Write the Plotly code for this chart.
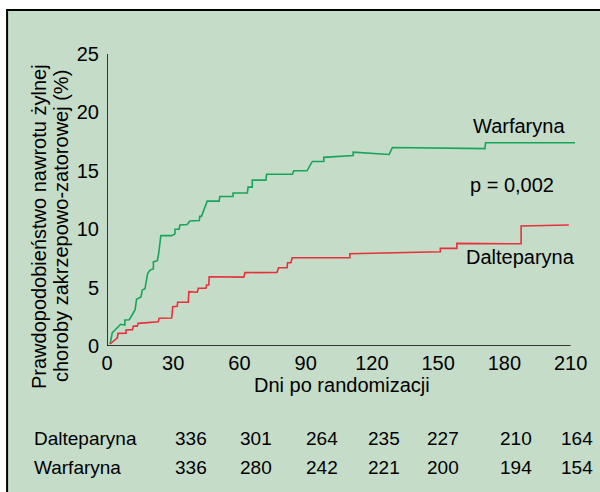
import plotly.graph_objects as go

# ---------------- data ----------------
warf_days = [1.4, 2.4, 3.6, 6.2, 8.1, 8.1, 10.1, 12.7, 13.4, 15.4, 16.0, 17.2, 18.4, 19.5, 21.0, 21.0,
             22.8, 23.4, 24.4, 29.3, 30.8, 30.8, 32.7, 33.0, 36.3, 37.5, 41.8, 42.0, 42.8, 45.4,
             50.8, 51.1, 57.1, 57.1, 63.6, 63.9, 65.8, 65.8, 72.0, 72.3, 84.0, 84.6, 90.6, 93.0,
             98.2, 98.2, 111.5, 111.5, 127.8, 129.3, 171.2, 171.5, 212]
warf_vals = [0.17, 1.14, 1.37, 1.86, 1.8, 2.23, 2.25, 3.08, 4.0, 4.2, 4.8, 4.9, 6.2, 6.5, 6.6, 7.2,
             7.3, 7.9, 9.45, 9.45, 9.6, 10.0, 10.0, 10.36, 10.4, 10.7, 10.75, 11.1, 11.1, 12.4,
             12.4, 12.8, 12.8, 13.1, 13.1, 13.6, 13.6, 14.2, 14.2, 14.7, 14.7, 15.0, 15.0, 15.8,
             15.8, 16.15, 16.3, 16.6, 16.4, 17.0, 16.9, 17.4, 17.4]

dalt_days = [1.4, 4.7, 5.0, 8.6, 8.6, 11.5, 12.0, 13.7, 14.1, 23.2, 23.6, 29.3, 29.8, 31.8, 32.0,
             36.8, 37.1, 40.9, 41.4, 44.8, 45.1, 46.1, 46.3, 62.0, 62.5, 77.0, 77.7, 81.6, 81.8,
             83.3, 83.9, 110, 110, 151, 151, 158.5, 158.5, 187.6, 187.6, 209.2]
dalt_vals = [0.17, 0.7, 1.08, 1.1, 1.37, 1.4, 1.7, 1.7, 1.94, 2.08, 2.37, 2.4, 3.37, 3.4, 3.74,
             3.74, 4.65, 4.6, 4.94, 4.94, 5.22, 5.22, 5.93, 5.9, 6.28, 6.3, 6.7, 6.7, 7.13,
             7.13, 7.56, 7.56, 7.9, 8.07, 8.36, 8.36, 8.79, 8.75, 10.27, 10.36]

x_ticks = [0, 30, 60, 90, 120, 150, 180, 210]
y_ticks = [0, 5, 10, 15, 20, 25]

risk_rows = ["Dalteparyna", "Warfaryna"]
risk_dalt = [336, 301, 264, 235, 227, 210, 164]
risk_warf = [336, 280, 242, 221, 200, 194, 154]

y_title_lines = ["Prawdopodobieństwo nawrotu żylnej", "choroby zakrzepowo-zatorowej (%)"]
x_title = "Dni po randomizacji"
p_text = "p = 0,002"

# ---------------- style / layout ----------------
BG = "#c5dcc9"
GREEN = "#17a55b"
RED = "#e8303a"
FONT = "Liberation Sans, Arial, Helvetica, sans-serif"
FS = 20

L, T, W, H = 107, 54, 468.4, 292
WIDTH, HEIGHT = 600, 492


def px(xp):
    return (xp - L) / W


def py(yp):
    return (T + H - yp) / H


fig = go.Figure()
fig.add_trace(go.Scatter(x=warf_days, y=warf_vals, mode="lines",
                         line=dict(color=GREEN, width=1.6), showlegend=False, hoverinfo="skip"))
fig.add_trace(go.Scatter(x=dalt_days, y=dalt_vals, mode="lines",
                         line=dict(color=RED, width=1.6), showlegend=False, hoverinfo="skip"))

shapes = [
    dict(type="rect", xref="paper", yref="paper", x0=px(7), x1=px(620), y0=py(510), y1=py(10),
         fillcolor=BG, line=dict(width=0), layer="below"),
    dict(type="line", xref="paper", yref="paper", x0=px(6), x1=px(620), y0=py(10), y1=py(10),
         line=dict(color="black", width=2)),
    dict(type="line", xref="paper", yref="paper", x0=px(7), x1=px(7), y0=py(9), y1=py(510),
         line=dict(color="black", width=2)),
    dict(type="line", xref="x", yref="y", x0=0, x1=210, y0=0, y1=0,
         line=dict(color="black", width=1.5)),
    dict(type="line", xref="x", yref="y", x0=0, x1=0, y0=0, y1=25,
         line=dict(color="black", width=1.5)),
]


def txt(x, y, s, size=FS, angle=0, xanchor="center"):
    return dict(xref="paper", yref="paper", x=px(x), y=py(y), text=s, textangle=angle,
                showarrow=False, xanchor=xanchor, yanchor="middle",
                font=dict(size=size, color="black", family=FONT))


ann = [
    txt(39, 227, y_title_lines[0], size=20, angle=-90),
    txt(61, 226, y_title_lines[1], size=20, angle=-90),
    txt(342, 385, x_title),
    txt(519, 126, "Warfaryna"),
    txt(512, 185, p_text),
    txt(521, 257, "Dalteparyna"),
]

col_px = [191, 256, 322, 384, 443, 516, 577]
row_py = [438, 467]
for r, (name, vals) in enumerate(zip(risk_rows, [risk_dalt, risk_warf])):
    ann.append(txt(32, row_py[r], name, size=19, xanchor="left"))
    for c, v in enumerate(vals):
        ann.append(txt(col_px[c], row_py[r], str(v), size=19))

fig.update_layout(
    width=WIDTH, height=HEIGHT,
    margin=dict(l=L, r=WIDTH - L - W, t=T, b=HEIGHT - T - H, pad=0),
    paper_bgcolor="white", plot_bgcolor="rgba(0,0,0,0)",
    font=dict(family=FONT, size=FS, color="black"),
    shapes=shapes, annotations=ann, showlegend=False,
    xaxis=dict(range=[0, 212], tickvals=x_ticks, ticktext=[str(v) for v in x_ticks],
               showgrid=False, zeroline=False, showline=False, ticks="",
               ticklabelstandoff=3, tickfont=dict(size=FS, color="black")),
    yaxis=dict(range=[0, 25], tickvals=y_ticks, ticktext=[str(v) for v in y_ticks],
               showgrid=False, zeroline=False, showline=False, ticks="",
               ticklabelstandoff=7, tickfont=dict(size=FS, color="black")),
)

fig.write_html("out.html", config={"displayModeBar": False},
               post_script="document.body.style.margin='0';document.body.style.overflow='hidden';")
